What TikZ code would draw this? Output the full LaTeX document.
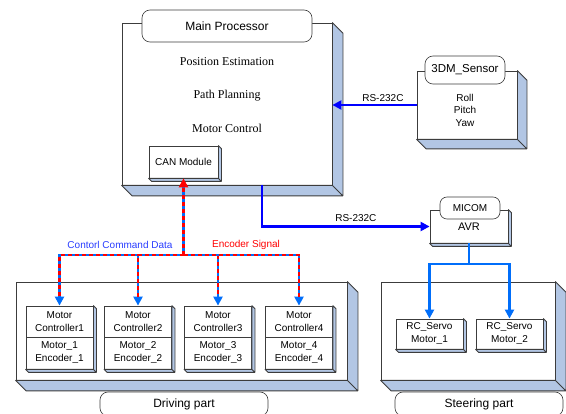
\documentclass[tikz,border=0pt]{standalone}
\usepackage{fontspec}
\setmainfont{Liberation Serif}
\setsansfont{Liberation Sans}
\usetikzlibrary{arrows.meta}
\definecolor{sideblue}{RGB}{178,198,228}
\definecolor{linkblue}{RGB}{0,0,255}
\definecolor{busblue}{RGB}{0,110,250}
\definecolor{cmdblue}{RGB}{40,60,255}
\definecolor{boxline}{RGB}{60,60,60}

\begin{document}
\begin{tikzpicture}[x=1pt, y=-1pt, >={Triangle[length=9pt, width=9pt]},
        font=\sffamily\fontsize{10}{13}\selectfont,
        box/.style={draw=boxline, fill=white, line width=0.8pt, inner sep=0pt, align=center},
        tag/.style={draw=boxline, fill=white, line width=0.6pt, rounded corners=8pt, inner sep=0pt},
        side/.style={draw=boxline, fill=sideblue, line width=0.8pt, line join=round},
        rs/.style={draw=linkblue, line width=2.2pt, ->},
        servo/.style={draw=busblue, line width=2.2pt, ->},
        busbase/.style={draw=busblue, line width=2.4pt},
        busdash/.style={draw=red, line width=2.4pt, dash pattern=on 4pt off 3pt, shorten >=9pt}]
    \useasboundingbox (0,0) rectangle (566,414);

    % Nodes
    \node[box, minimum width=210pt, minimum height=162pt] (mp) at (227,104) {};
    \node[box, minimum width=100pt, minimum height=68pt] (sensor) at (467,105) {};
    \node[box, minimum width=331pt, minimum height=98pt] (drive) at (181.5,331) {};
    \node[box, minimum width=174pt, minimum height=98pt] (steer) at (468,331) {};

    \node[font=\rmfamily\fontsize{12}{14}\selectfont] (pos) at (227,62) {Position Estimation};
    \node[font=\rmfamily\fontsize{12}{14}\selectfont] (plan) at (227,96) {Path Planning};
    \node[font=\rmfamily\fontsize{12}{14}\selectfont] (ctrl) at (227,128) {Motor Control};
    \node[box, minimum width=69pt, minimum height=32pt] (can) at (183.5,162) {CAN Module};

    \node[align=center, font=\sffamily\fontsize{10}{12.5}\selectfont] (rpy) at (465,110) {Roll\\Pitch\\Yaw};
    \node[box, minimum width=78pt, minimum height=33pt, font=\sffamily\fontsize{11}{13}\selectfont] (avr) at (469,226.5) {AVR};

    \foreach \i/\x in {1/59.5, 2/138, 3/218, 4/299} {
        \node[box, minimum width=67pt, minimum height=31pt] (mc\i) at (\x,321.5) {Motor\\Controller\i};
        \node[box, minimum width=67pt, minimum height=32pt] (enc\i) at (\x,353) {Motor\_\i\\Encoder\_\i};
    }
    \node[box, minimum width=67pt, minimum height=30pt] (rc1) at (429.5,334) {RC\_Servo\\Motor\_1};
    \node[box, minimum width=67pt, minimum height=30pt] (rc2) at (509.5,334) {RC\_Servo\\Motor\_2};

    % 3D sides
    \foreach \t/\b/\d in {mp/mp/10.5, sensor/sensor/9.5, drive/drive/10.5, steer/steer/10.5,
            can/can/3, avr/avr/3, mc1/enc1/3, mc2/enc2/3, mc3/enc3/3, mc4/enc4/3, rc1/rc1/3, rc2/rc2/3}
        \filldraw[side] (\t.north east) -- ([shift={(\d,\d)}]\t.north east)
            -- ([shift={(\d,\d)}]\b.south east) -- ([shift={(\d,\d)}]\b.south west)
            -- (\b.south west) -- (\b.south east) -- cycle
            (\b.south east) -- ([shift={(\d,\d)}]\b.south east);

    % Tags
    \node[tag, minimum width=170pt, minimum height=32pt, font=\sffamily\fontsize{12}{14}\selectfont] (mptag) at (227,26) {Main Processor};
    \node[tag, minimum width=80pt, minimum height=28pt, font=\sffamily\fontsize{11.5}{14}\selectfont] (sensortag) at (465,70) {3DM\_Sensor};
    \node[tag, minimum width=60pt, minimum height=22pt, rounded corners=7pt] (avrtag) at (470,208) {MICOM};
    \node[tag, minimum width=168pt, minimum height=24pt, font=\sffamily\fontsize{12}{14}\selectfont] (drivetag) at (184,404) {Driving part};
    \node[tag, minimum width=168pt, minimum height=24pt, font=\sffamily\fontsize{12}{14}\selectfont] (steertag) at (479,404) {Steering part};

    % Edges
    \draw[rs] (sensor.west) -- (sensor.west -| mp.east)
        node[pos=0.4, above=-1pt, text=black] {RS-232C};
    \draw[rs] ([xshift=35pt]mp.south) |- (avr.west)
        node[pos=0.78, above, text=black] {RS-232C};

    \coordinate (split) at (469,264);
    \draw[servo] (avr.south) -- (split) -| (rc1.north);
    \draw[servo] (avr.south) -- (split) -| (rc2.north);

    \coordinate (bus) at (183.5,255);
    \draw[busbase, -{Triangle[length=9pt, width=9pt, color=red]}] (bus) -- (can.south);
    \draw[busdash] (bus) -- (can.south);
    \foreach \i in {1,...,4} {
        \draw[busbase, ->] (bus) -| (mc\i.north);
        \draw[busdash] (bus) -| (mc\i.north);
    }
    \node[text=cmdblue] (cmd) at (120,245) {Contorl Command Data};
    \node[text=red] (encsig) at (246,245) {Encoder Signal};
\end{tikzpicture}
\end{document}
